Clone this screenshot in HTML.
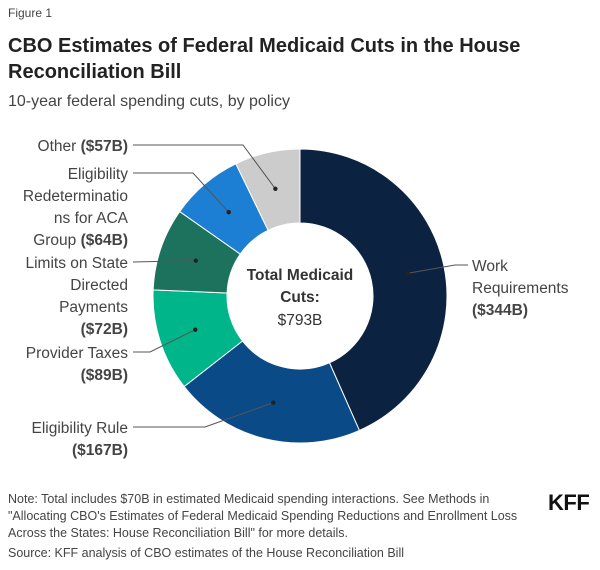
<!DOCTYPE html>
<html><head><meta charset="utf-8"><style>
body{margin:0;background:#fff;font-family:"Liberation Sans",sans-serif;color:#333;}
#wrap{position:relative;width:600px;height:570px;overflow:hidden;}
.t{position:absolute;left:8px;white-space:nowrap;}
</style></head><body>
<div id="wrap">
<div class="t" style="top:6px;font-size:12px;color:#444;">Figure 1</div>
<div class="t" style="top:33px;font-size:20px;font-weight:bold;color:#222;line-height:26px;">CBO Estimates of Federal Medicaid Cuts in the House<br>Reconciliation Bill</div>
<div class="t" style="top:93px;font-size:16px;color:#444;">10-year federal spending cuts, by policy</div>
<svg id="chart" width="600" height="570" style="position:absolute;left:0;top:0;"></svg>
<div class="t" style="top:491px;font-size:12.5px;line-height:17px;color:#444;">Note: Total includes $70B in estimated Medicaid spending interactions. See Methods in<br>"Allocating CBO's Estimates of Federal Medicaid Spending Reductions and Enrollment Loss<br>Across the States: House Reconciliation Bill" for more details.</div>
<div class="t" style="top:546px;font-size:12.5px;color:#444;">Source: KFF analysis of CBO estimates of the House Reconciliation Bill</div>
<div style="position:absolute;left:548px;top:490px;font-size:22px;font-weight:bold;color:#111;letter-spacing:-0.5px;">KFF</div>
</div>
<script>
const categories=["Work Requirements","Eligibility Rule","Provider Taxes","Limits on State Directed Payments","Eligibility Redeterminations for ACA Group","Other"];
const values=[344,167,89,72,64,57];
const valueLabels=["($344B)","($167B)","($89B)","($72B)","($64B)","($57B)"];
const colors=["#0b2341","#0a4a87","#00b58a","#1d725e","#1d7fd4","#cccccc"];
const labelLines=[["Work","Requirements","($344B)"],["Eligibility Rule","($167B)"],["Provider Taxes","($89B)"],["Limits on State","Directed","Payments","($72B)"],["Eligibility","Redeterminatio","ns for ACA","Group ($64B)"],["Other ($57B)"]];
const boldLast=[true,true,true,true,"($64B)","($57B)"];
const labelY=[271,433,358,268,179,151];
const elbowX=[455,205,150,null,193,243];
const svg=document.getElementById('chart');
const NS='http://www.w3.org/2000/svg';
const cx=300,cy=296,R=147,r=73,rd=110;
const total=values.reduce((a,b)=>a+b,0);
function pt(a,rad){return [cx+rad*Math.sin(a),cy-rad*Math.cos(a)];}
let acc=0;
values.forEach((v,i)=>{
 const a0=acc/total*2*Math.PI;acc+=v;const a1=acc/total*2*Math.PI;
 const lg=(a1-a0)>Math.PI?1:0;
 const p0=pt(a0,R),p1=pt(a1,R),q1=pt(a1,r),q0=pt(a0,r);
 const p=document.createElementNS(NS,'path');
 p.setAttribute('d',`M${p0[0]},${p0[1]}A${R},${R} 0 ${lg} 1 ${p1[0]},${p1[1]}L${q1[0]},${q1[1]}A${r},${r} 0 ${lg} 0 ${q0[0]},${q0[1]}Z`);
 p.setAttribute('fill',colors[i]);p.setAttribute('stroke','#fff');p.setAttribute('stroke-width','1');
 
 
 svg.appendChild(p);
 const am=(a0+a1)/2,d=pt(am,rd);
 const ly=labelY[i]-6;
 const right=i===0;
 const lx=right?468:133;
 const ex=elbowX[i]===null?lx:elbowX[i];
 const ln=document.createElementNS(NS,'polyline');
 ln.setAttribute('points',`${lx},${ly} ${ex},${ly} ${d[0]},${d[1]}`);
 ln.setAttribute('fill','none');ln.setAttribute('stroke','#555');ln.setAttribute('stroke-width','1');
 
 
 svg.appendChild(ln);
 const c=document.createElementNS(NS,'circle');
 c.setAttribute('cx',d[0]);c.setAttribute('cy',d[1]);c.setAttribute('r','2.2');c.setAttribute('fill','#222');
 
 
 svg.appendChild(c);
 const t=document.createElementNS(NS,'text');
 t.setAttribute('font-size','15.5');t.setAttribute('fill','#444');
 t.setAttribute('text-anchor',right?'start':'end');
 
 
 const lines=labelLines[i];
 lines.forEach((s,j)=>{
  const ts=document.createElementNS(NS,'tspan');
  ts.setAttribute('x',right?472:128);ts.setAttribute('y',labelY[i]+j*22);
  const vl=valueLabels[i];
  if(j===lines.length-1&&s.endsWith(vl)&&s!==vl){
   ts.appendChild(document.createTextNode(s.slice(0,s.length-vl.length)));
   const b=document.createElementNS(NS,'tspan');b.setAttribute('font-weight','bold');b.textContent=vl;ts.appendChild(b);
  }else{ts.textContent=s;if(s===vl)ts.setAttribute('font-weight','bold');}
  t.appendChild(ts);
 });
 svg.appendChild(t);
});
const ct=document.createElementNS(NS,'text');
ct.setAttribute('text-anchor','middle');ct.setAttribute('font-size','15.5');ct.setAttribute('fill','#333');


[["Total Medicaid",280,true],["Cuts:",302,true],["$"+total+"B",325,false]].forEach(([s,y,b])=>{
 const ts=document.createElementNS(NS,'tspan');ts.setAttribute('x',cx);ts.setAttribute('y',y);
 if(b)ts.setAttribute('font-weight','bold');ts.textContent=s;ct.appendChild(ts);
});
svg.appendChild(ct);
</script>
</body></html>
